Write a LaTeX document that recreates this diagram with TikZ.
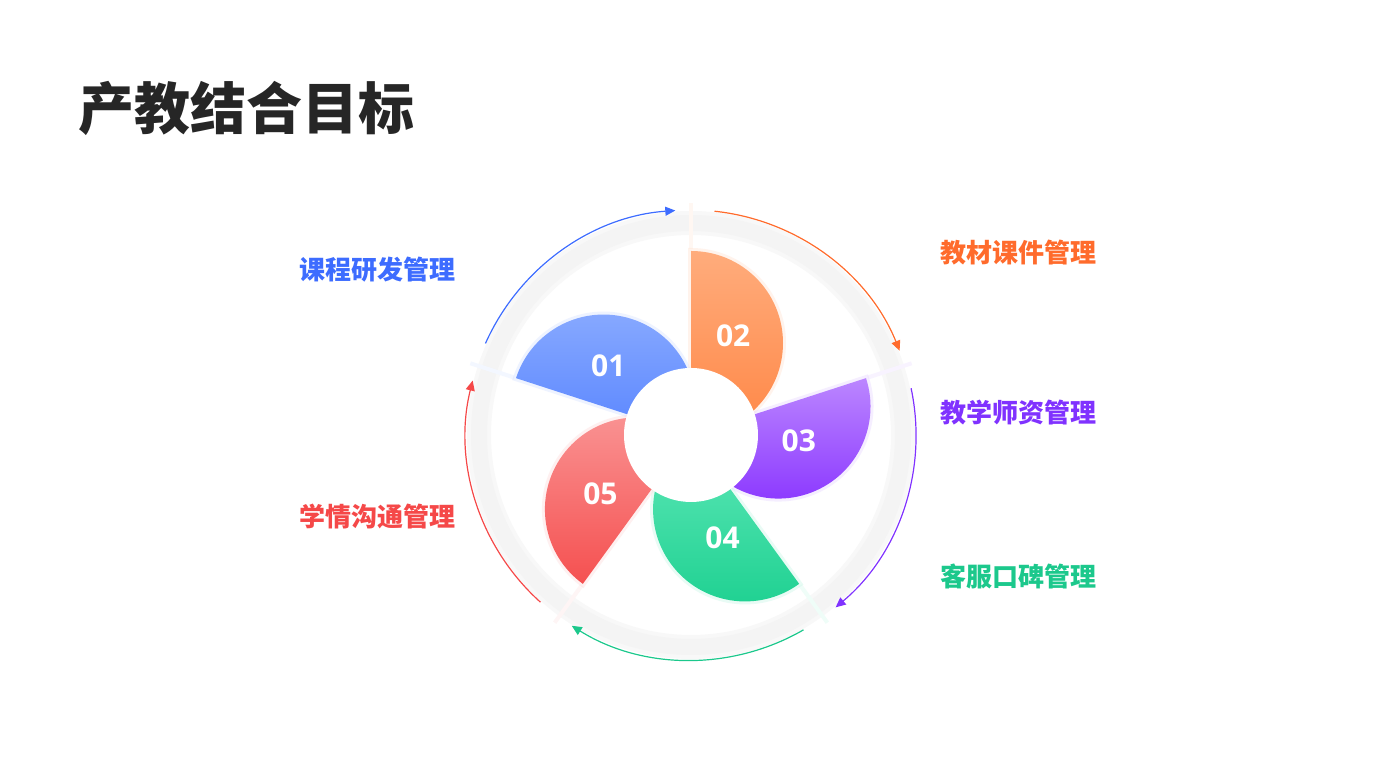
\documentclass[tikz,border=0pt]{standalone}
\usepackage{fontspec}
\setmainfont{Open Sans}
\newfontfamily\cjk{Noto Sans CJK SC}
\usetikzlibrary{arrows.meta,calc}
\definecolor{titlegray}{RGB}{38, 38, 38}
\definecolor{ringgray}{RGB}{244, 244, 244}
\definecolor{lblblue}{RGB}{61, 108, 255}
\definecolor{lblorange}{RGB}{255, 107, 44}
\definecolor{lblpurple}{RGB}{128, 50, 255}
\definecolor{lblgreen}{RGB}{28, 200, 140}
\definecolor{lblred}{RGB}{245, 72, 72}
\definecolor{top01}{RGB}{138, 171, 255}
\definecolor{bot01}{RGB}{90, 134, 255}
\definecolor{top02}{RGB}{255, 172, 124}
\definecolor{bot02}{RGB}{255, 135, 70}
\definecolor{top03}{RGB}{187, 134, 255}
\definecolor{bot03}{RGB}{137, 52, 255}
\definecolor{top04}{RGB}{96, 232, 184}
\definecolor{bot04}{RGB}{28, 208, 144}
\definecolor{top05}{RGB}{250, 150, 150}
\definecolor{bot05}{RGB}{245, 80, 80}

\begin{document}
\begin{tikzpicture}[x=0.5pt, y=0.5pt,
  numtext/.style={text=white, font=\bfseries\fontsize{15}{18}\selectfont, inner sep=0pt},
  lbltext/.style={font=\cjk\bfseries\fontsize{13}{16}\selectfont, inner sep=0pt},
  arcarrow/.style={line width=0.6pt, -{Triangle[length=5pt, width=4.5pt]}}]
\useasboundingbox (0,0) rectangle (1394,780);
\coordinate (c) at (691,345);

% title
\node[anchor=west, inner sep=0pt, text=titlegray, font=\cjk\bfseries\fontsize{28}{32}\selectfont] (title) at (78,672) {产教结合目标};

% background ring
\fill[white] (c) circle[radius=221];
\fill[ringgray!60, even odd rule] (c) circle[radius=224] (c) circle[radius=200];
\fill[ringgray, even odd rule] (c) circle[radius=220] (c) circle[radius=204];

% petals
\foreach \ang/\num/\pos in {162/01/140, 90/02/67, 18/03/-3, -54/04/-73, -126/05/213} {
  \draw[top\num!10, line width=2pt] ($(c)+(\ang:186)$) -- ($(c)+(\ang:232)$);
  \draw[top\num!40, line width=3pt, opacity=0.35]
    ($(c)+(\ang:184)$) arc[start angle=\ang, end angle=\ang-180, radius=92] -- cycle;
  \shade[top color=top\num, bottom color=bot\num]
    ($(c)+(\ang:184)$) arc[start angle=\ang, end angle=\ang-180, radius=92] -- cycle;
}
\fill[white] (c) circle[radius=67];
\foreach \ang/\num/\pos in {162/01/140, 90/02/67, 18/03/-3, -54/04/-73, -126/05/213}
  \node[numtext] (n\num) at ($(c)+(\pos:108)$) {\num};

% outer arrows
\foreach \s/\e/\col in {156/94/lblblue, 84/22/lblorange, 12/-50/lblpurple, -60/-122/lblgreen, -132/-194/lblred}
  \draw[arcarrow, \col] ($(c)+(\s:225)$) arc[start angle=\s, end angle=\e, radius=225];

% labels
\node[lbltext, anchor=east, text=lblblue] (lbl01) at (456,510) {课程研发管理};
\node[lbltext, anchor=west, text=lblorange] (lbl02) at (940,527) {教材课件管理};
\node[lbltext, anchor=west, text=lblpurple] (lbl03) at (940,367) {教学师资管理};
\node[lbltext, anchor=west, text=lblgreen] (lbl04) at (940,204) {客服口碑管理};
\node[lbltext, anchor=east, text=lblred] (lbl05) at (456,263) {学情沟通管理};
\end{tikzpicture}
\end{document}
